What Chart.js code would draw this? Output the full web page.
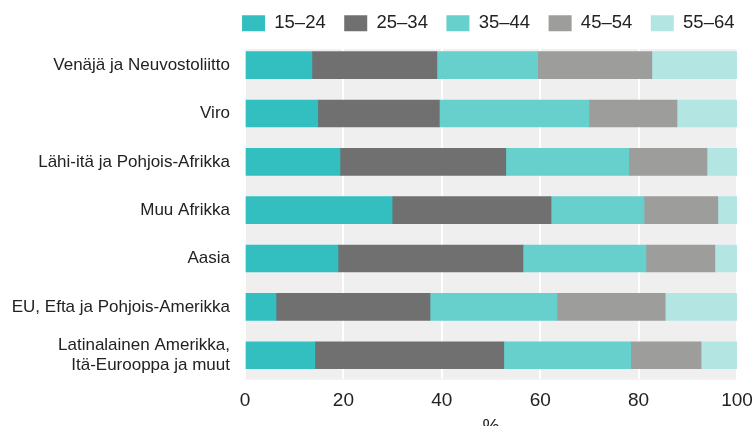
<!DOCTYPE html>
<html lang="fi">
<head>
  <meta charset="UTF-8">
  <title>Ikäryhmät syntyperän mukaan</title>
  <script src="https://cdn.jsdelivr.net/npm/chart.js@4/dist/chart.umd.min.js"></script>
  <style>
    body {
      margin: 0;
      background: #fff;
    }
    .wrap {
      width: 753px;
      height: 426px;
    }
  </style>
</head>
<body>
  <div class="wrap">
    <canvas id="chart" width="753" height="426"></canvas>
  </div>
  <script>
    // alueet
    const regions = [
      'Venäjä ja Neuvostoliitto',
      'Viro',
      'Lähi-itä ja Pohjois-Afrikka',
      'Muu Afrikka',
      'Aasia',
      'EU, Efta ja Pohjois-Amerikka',
      ['Latinalainen Amerikka,', 'Itä-Eurooppa ja muut']
    ];

    // ikäryhmät
    const ageGroups = ['15–24', '25–34', '35–44', '45–54', '55–64'];

    // osuudet (%) ikäryhmittäin
    const age15_24 = [13.6, 14.8, 19.3, 29.9, 18.9, 6.3, 14.2];
    const age25_34 = [25.4, 24.7, 33.7, 32.3, 37.6, 31.3, 38.4];
    const age35_44 = [20.5, 30.4, 25.0, 18.9, 25.0, 25.8, 25.8];
    const age45_54 = [23.2, 17.9, 15.9, 15.0, 14.0, 22.0, 14.3];
    const age55_64 = [17.3, 12.2, 6.1, 3.9, 4.5, 14.6, 7.3];

    const xTicks = [0, 20, 40, 60, 80, 100];

    const colors = ['#33bfbf', '#707070', '#67cfcc', '#9d9d9b', '#b3e6e3'];
    const series = [age15_24, age25_34, age35_44, age45_54, age55_64];

    const fontFamily = "'Liberation Sans Narrow', 'Liberation Sans', Arial, sans-serif";

    // harmaa tausta piirtoalueelle
    const plotBg = {
      id: 'plotBg',
      beforeDraw(chart) {
        const { ctx, chartArea } = chart;
        const y = chart.scales.y;
        const top = y.getPixelForValue(0) - 16;
        const bottom = y.getPixelForValue(regions.length - 1) + 24.5;
        ctx.save();
        ctx.fillStyle = '#efefef';
        ctx.fillRect(chartArea.left - 1, top, chartArea.right - chartArea.left + 1, bottom - top);
        ctx.restore();
      }
    };

    const ctx = document.getElementById('chart').getContext('2d');
    new Chart(ctx, {
      type: 'bar',
      data: {
        labels: regions,
        datasets: ageGroups.map((g, i) => ({
          label: g,
          data: series[i],
          backgroundColor: colors[i],
          borderWidth: 0,
          barThickness: 27
        }))
      },
      options: {
        indexAxis: 'y',
        responsive: false,
        animation: false,
        layout: {
          padding: { top: -4.5, right: 0, left: 0, bottom: -12 }
        },
        plugins: {
          legend: {
            position: 'top',
            align: 'end',
            maxHeight: 45.5,
            labels: {
              boxWidth: 23,
              boxHeight: 16,
              padding: 18.5,
              color: '#222',
              font: { family: fontFamily, size: 18.5 }
            }
          },
          tooltip: { enabled: false }
        },
        scales: {
          x: {
            stacked: true,
            min: 0,
            max: 100,
            afterBuildTicks(scale) {
              scale.ticks = xTicks.map(v => ({ value: v }));
            },
            afterFit(scale) {
              scale.paddingRight = 16;
              scale.paddingLeft = 0;
            },
            grid: {
              color: '#ffffff',
              lineWidth: 2,
              drawTicks: false
            },
            border: { display: false },
            ticks: {
              color: '#222',
              padding: 10,
              font: { family: fontFamily, size: 19 }
            },
            title: {
              display: true,
              text: '%',
              color: '#222',
              padding: { top: -7, bottom: 0 },
              font: { family: fontFamily, size: 19 }
            }
          },
          y: {
            stacked: true,
            afterFit(scale) {
              scale.width = 245;
            },
            grid: { display: false, drawTicks: false },
            border: { display: false },
            ticks: {
              autoSkip: false,
              color: '#222',
              padding: 15,
              font: { family: fontFamily, size: 17, lineHeight: 1.2 }
            }
          }
        }
      },
      plugins: [plotBg]
    });
  </script>
</body>
</html>
